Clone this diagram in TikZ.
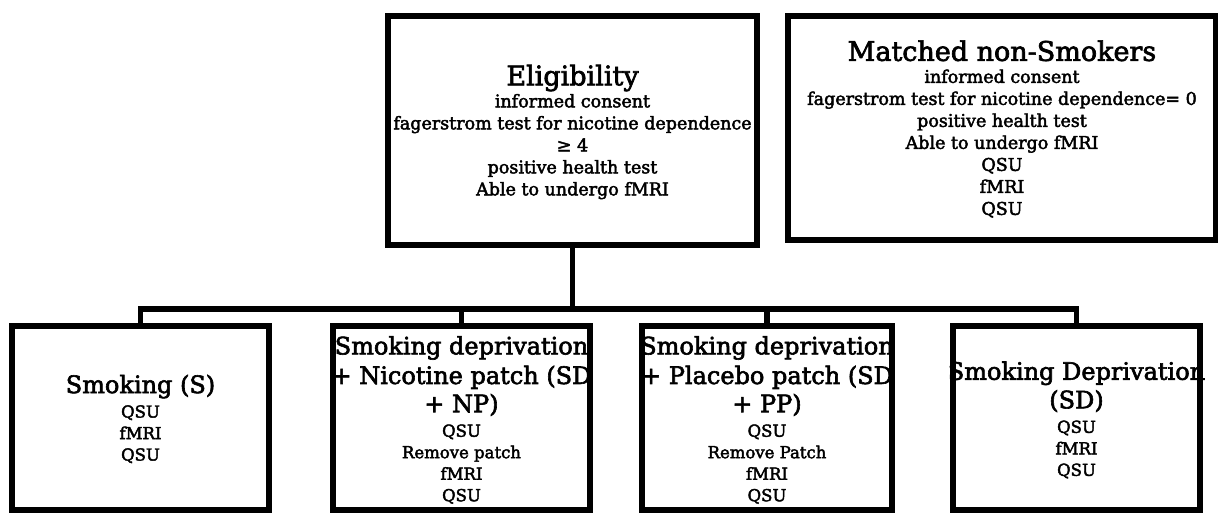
\documentclass[tikz,border=0pt]{standalone}
\usepackage{fontspec}
\setmainfont{DejaVu Serif}[FakeBold=2.5]
\tikzset{
  box/.style={draw,line width=5.5pt,inner sep=0pt},
  wire/.style={line width=5.5pt},
  txt/.style={align=center,inner sep=0pt,font=\bodyfont},
}
\newcommand{\headfont}{\fontsize{27}{30}\selectfont}
\newcommand{\bodyfont}{\fontsize{17.5}{22}\selectfont}
\newcommand{\armfont}{\fontsize{24}{29}\selectfont}
\newcommand{\smallfont}{\fontsize{16.5}{21.5}\selectfont}

\begin{document}
\begin{tikzpicture}[x=1pt,y=-1pt]
  \useasboundingbox (0,0) rectangle (1218,512);

  % Screening
  \node[box,minimum width=369pt,minimum height=229pt] (elig) at (572.5,130.5) {};
  \node[txt] (eligtxt) at (572.5,132) {{\headfont Eligibility}\\informed consent\\fagerstrom test for nicotine dependence\\≥ 4\\positive health test\\Able to undergo fMRI};
  \node[box,minimum width=428pt,minimum height=224pt] (ctrl) at (1002,128) {};
  \node[txt] (ctrltxt) at (1002,129) {{\headfont Matched non-Smokers}\\informed consent\\fagerstrom test for nicotine dependence= 0\\positive health test\\Able to undergo fMRI\\QSU\\fMRI\\QSU};

  % Sessions
  \node[box,minimum width=257pt,minimum height=184pt] (s) at (140.5,418) {};
  \node[box,minimum width=257pt,minimum height=184pt] (sdnp) at (461.5,418) {};
  \node[box,minimum width=250pt,minimum height=184pt] (sdpp) at (767,418) {};
  \node[box,minimum width=247pt,minimum height=184pt] (sd) at (1076.5,418) {};
  \node[txt,font=\smallfont] (stxt) at ([yshift=-1pt]s.center) {{\armfont Smoking (S)}\\[3pt]QSU\\fMRI\\QSU};
  \node[txt,font=\smallfont] (sdnptxt) at ([yshift=-2pt]sdnp.center) {{\armfont Smoking deprivation}\\[5pt]{\armfont + Nicotine patch (SD}\\[4pt]{\armfont + NP)}\\[3pt]QSU\\Remove patch\\fMRI\\QSU};
  \node[txt,font=\smallfont] (sdpptxt) at ([yshift=-2pt]sdpp.center) {{\armfont Smoking deprivation}\\[5pt]{\armfont + Placebo patch (SD}\\[4pt]{\armfont + PP)}\\[3pt]QSU\\Remove Patch\\fMRI\\QSU};
  \node[txt,font=\smallfont] (sdtxt) at ([yshift=-2pt]sd.center) {{\armfont Smoking Deprivation}\\[4pt]{\armfont (SD)}\\[3pt]QSU\\fMRI\\QSU};

  % Branches
  \coordinate (bus) at (572.5,309);
  \draw[wire] (elig.south) -- (bus);
  \draw[wire] (s.north) |- (bus) -| (sd.north);
  \draw[wire] (sdnp.north) -- (sdnp.north |- bus);
  \draw[wire] (sdpp.north) -- (sdpp.north |- bus);
\end{tikzpicture}
\end{document}
